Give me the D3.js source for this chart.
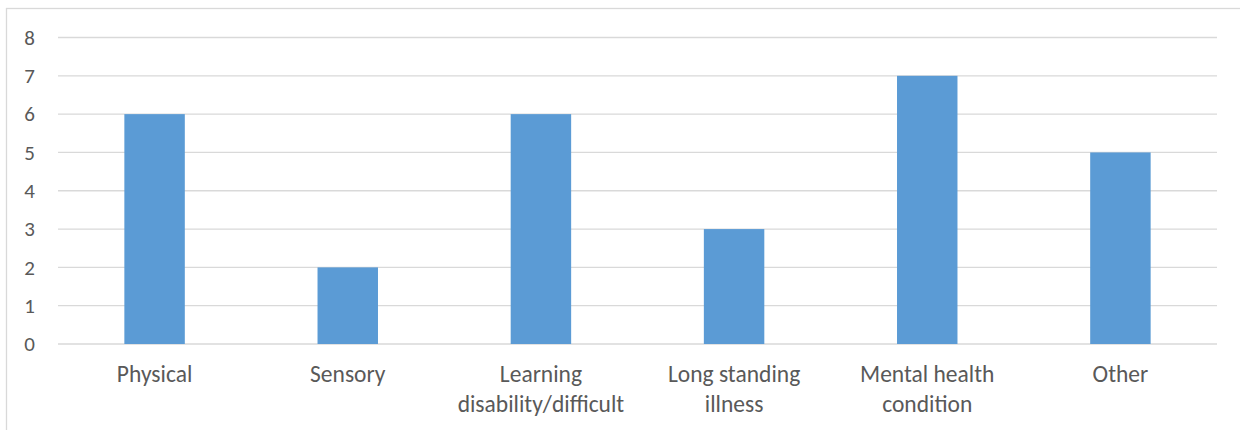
<!DOCTYPE html>
<html>
<head>
<meta charset="utf-8">
<script src="https://cdn.jsdelivr.net/npm/d3@7"></script>
<style>
  html, body { margin: 0; padding: 0; background: #fff; }
  svg { display: block; }
  text { font-family: Carlito, Calibri, Lato, "Open Sans", sans-serif; fill: #595959; }
</style>
</head>
<body>
<svg id="chart" width="1240" height="430"></svg>
<script>
// Disability category counts
const categories = ["Physical", "Sensory", "Learning disability/difficult", "Long standing illness", "Mental health condition", "Other"];
const categoryLines = [["Physical"], ["Sensory"], ["Learning", "disability/difficult"], ["Long standing", "illness"], ["Mental health", "condition"], ["Other"]];
const counts = [6, 2, 6, 3, 7, 5];
const yTicks = [0, 1, 2, 3, 4, 5, 6, 7, 8];

const svg = d3.select("#chart");
const W = 1240, H = 430;
const plot = { left: 58, right: 1217, top: 37.5, bottom: 344 };

// Outer chart frame (continues past the right and bottom edges)
svg.append("rect")
  .attr("x", 6.5).attr("y", 8.5)
  .attr("width", W + 20).attr("height", H + 20)
  .attr("fill", "none").attr("stroke", "#d9d9d9").attr("stroke-width", 1.3);

const x = d3.scaleBand().domain(categories).range([plot.left, plot.right]).padding(0);
const y = d3.scaleLinear().domain([0, 8]).range([plot.bottom, plot.top]);

// Horizontal gridlines
svg.append("g").selectAll("line").data(yTicks).join("line")
  .attr("x1", plot.left).attr("x2", plot.right)
  .attr("y1", d => y(d)).attr("y2", d => y(d))
  .attr("stroke", "#d9d9d9").attr("stroke-width", 1.3);

// Y axis labels
const yAxis = d3.axisLeft(y).tickValues(yTicks).tickSize(0).tickPadding(0);
const yg = svg.append("g").attr("transform", `translate(35,0)`).call(yAxis);
yg.select(".domain").remove();
yg.selectAll("text").attr("font-size", 21).style("fill", "#595959")
  .style("font-family", "Carlito, Calibri, Lato, sans-serif");

// Bars
const barW = x.bandwidth() * 0.313;
svg.append("g").selectAll("rect").data(categories).join("rect")
  .attr("x", (d) => x(d) + (x.bandwidth() - barW) / 2)
  .attr("y", (d, i) => y(counts[i]))
  .attr("width", barW)
  .attr("height", (d, i) => y(0) - y(counts[i]))
  .attr("fill", "#5b9bd5");

// Category labels (wrapped)
const xg = svg.append("g");
categories.forEach((c, i) => {
  const t = xg.append("text")
    .attr("x", x(c) + x.bandwidth() / 2)
    .attr("y", 382)
    .attr("text-anchor", "middle")
    .attr("font-size", 23.5);
  categoryLines[i].forEach((line, j) => {
    t.append("tspan").attr("x", x(c) + x.bandwidth() / 2).attr("dy", j === 0 ? 0 : 30).text(line);
  });
});
</script>
</body>
</html>
